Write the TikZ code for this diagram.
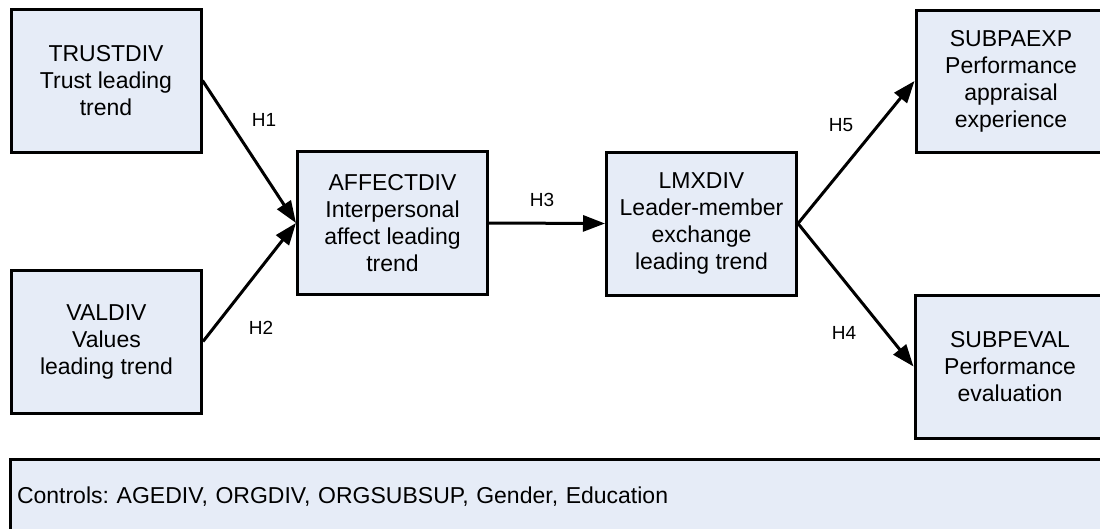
\documentclass[tikz,border=0pt]{standalone}
\usepackage{fontspec}
\setmainfont{Liberation Sans}
\usetikzlibrary{arrows.meta}
\definecolor{boxfill}{RGB}{230,236,247}
\frenchspacing
\begin{document}
\begin{tikzpicture}[x=1pt,y=-1pt,
  box/.style={draw=black, line width=3pt, fill=boxfill, minimum width=190pt, minimum height=143pt, align=center, inner sep=0pt, font=\fontsize{23}{27}\selectfont},
  link/.style={line width=3pt, -{Triangle[length=22pt,width=16pt]}},
  hlab/.style={font=\fontsize{19}{22}\selectfont, inner sep=0pt}]
\useasboundingbox (0,0) rectangle (1100,528);
\node[box] (trust) at (106,80.5) {TRUSTDIV\\Trust leading\\trend};
\node[box] (val) at (106.5,341.5) {VALDIV\\Values\\leading trend};
\node[box] (affect) at (392.5,223) {AFFECTDIV\\Interpersonal\\affect leading\\trend};
\node[box] (lmx) at (701.5,223.5) {LMXDIV\\Leader-member\\exchange\\leading trend};
\node[box, minimum height=142pt] (subpa) at (1011,81) {SUBPAEXP\\Performance\\appraisal\\experience};
\node[box] (subpe) at (1010,366.5) {SUBPEVAL\\Performance\\evaluation};
\node[draw=black, line width=3pt, fill=boxfill, minimum width=1100pt, minimum height=76pt, text width=1086pt, inner xsep=7pt, inner ysep=0pt, align=left, font=\fontsize{23}{27}\selectfont] (ctrl) at (560,497) {Controls: AGEDIV, ORGDIV, ORGSUBSUP, Gender, Education};
\draw[link] (trust.east) -- (affect.west);
\draw[link] (val.east) -- (affect.west);
\draw[link] (affect.east) -- (lmx.west);
\draw[link] (lmx.east) -- (subpa.west);
\draw[link] (lmx.east) -- (subpe.west);
\node[hlab] (h1) at (264,120) {H1};
\node[hlab] (h2) at (261,328) {H2};
\node[hlab] (h3) at (542,200) {H3};
\node[hlab] (h4) at (844,333) {H4};
\node[hlab] (h5) at (841,125) {H5};
\end{tikzpicture}
\end{document}
